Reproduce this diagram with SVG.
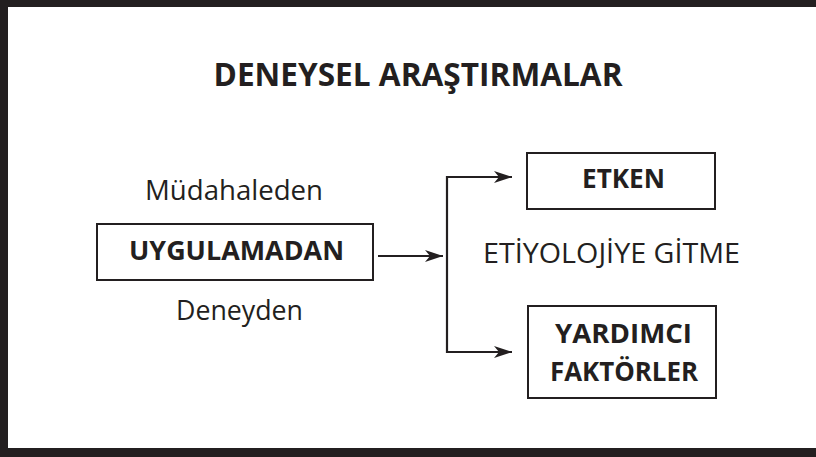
<svg xmlns="http://www.w3.org/2000/svg" width="816" height="457" viewBox="0 0 816 457">
  <style>
    .box { fill: #ffffff; stroke: #231f20; stroke-width: 2; }
    .lbl { font-family: "Open Sans", "Noto Sans", sans-serif; fill: #231f20; font-size: 27px; }
    .b { font-weight: bold; }
    .wire { fill: none; stroke: #231f20; stroke-width: 2.2; }
  </style>
  <defs>
    <marker id="arrow" viewBox="0 0 18 12" refX="18" refY="6" markerWidth="18" markerHeight="12" markerUnits="userSpaceOnUse" orient="auto">
      <path d="M0,0 L18,6 L0,12 L5,6 Z" fill="#231f20"/>
    </marker>
  </defs>

  <!-- page background and frame -->
  <rect x="0" y="0" width="816" height="457" fill="#ffffff"/>
  <g id="frame" fill="#231f20">
    <rect x="0" y="0" width="816" height="7"/>
    <rect x="0" y="0" width="8" height="457"/>
    <rect x="0" y="448" width="816" height="9"/>
  </g>

  <g id="title">
    <text class="lbl b" x="418" y="86" style="font-size:32px" text-anchor="middle" textLength="409" lengthAdjust="spacingAndGlyphs">DENEYSEL ARAŞTIRMALAR</text>
  </g>

  <g id="mudahaleden">
    <text class="lbl" x="234" y="200" text-anchor="middle" textLength="178" lengthAdjust="spacingAndGlyphs">Müdahaleden</text>
  </g>

  <g id="uygulamadan">
    <rect class="box" x="97" y="224" width="276" height="56"/>
    <text class="lbl b" x="236.5" y="260" text-anchor="middle" textLength="215" lengthAdjust="spacingAndGlyphs">UYGULAMADAN</text>
  </g>

  <g id="deneyden">
    <text class="lbl" x="239.5" y="320" text-anchor="middle" textLength="127" lengthAdjust="spacingAndGlyphs">Deneyden</text>
  </g>

  <g id="etken">
    <rect class="box" x="527" y="153" width="188" height="56"/>
    <text class="lbl b" x="623.5" y="188" text-anchor="middle" textLength="83" lengthAdjust="spacingAndGlyphs">ETKEN</text>
  </g>

  <g id="etiyoloji">
    <text class="lbl" x="611.5" y="263" text-anchor="middle" textLength="257" lengthAdjust="spacingAndGlyphs">ETİYOLOJİYE GİTME</text>
  </g>

  <g id="yardimci">
    <rect class="box" x="528" y="306" width="188" height="92"/>
    <text class="lbl b" x="623.5" y="343" text-anchor="middle" textLength="137" lengthAdjust="spacingAndGlyphs">YARDIMCI</text>
    <text class="lbl b" x="624" y="381" text-anchor="middle" textLength="148" lengthAdjust="spacingAndGlyphs">FAKTÖRLER</text>
  </g>

  <g id="connectors">
    <line class="wire" x1="378" y1="256" x2="443" y2="256" marker-end="url(#arrow)"/>
    <polyline class="wire" points="512,177 447,177 447,352 512,352"/>
    <line class="wire" x1="447" y1="177" x2="512" y2="177" marker-end="url(#arrow)"/>
    <line class="wire" x1="447" y1="352" x2="512" y2="352" marker-end="url(#arrow)"/>
  </g>
</svg>
